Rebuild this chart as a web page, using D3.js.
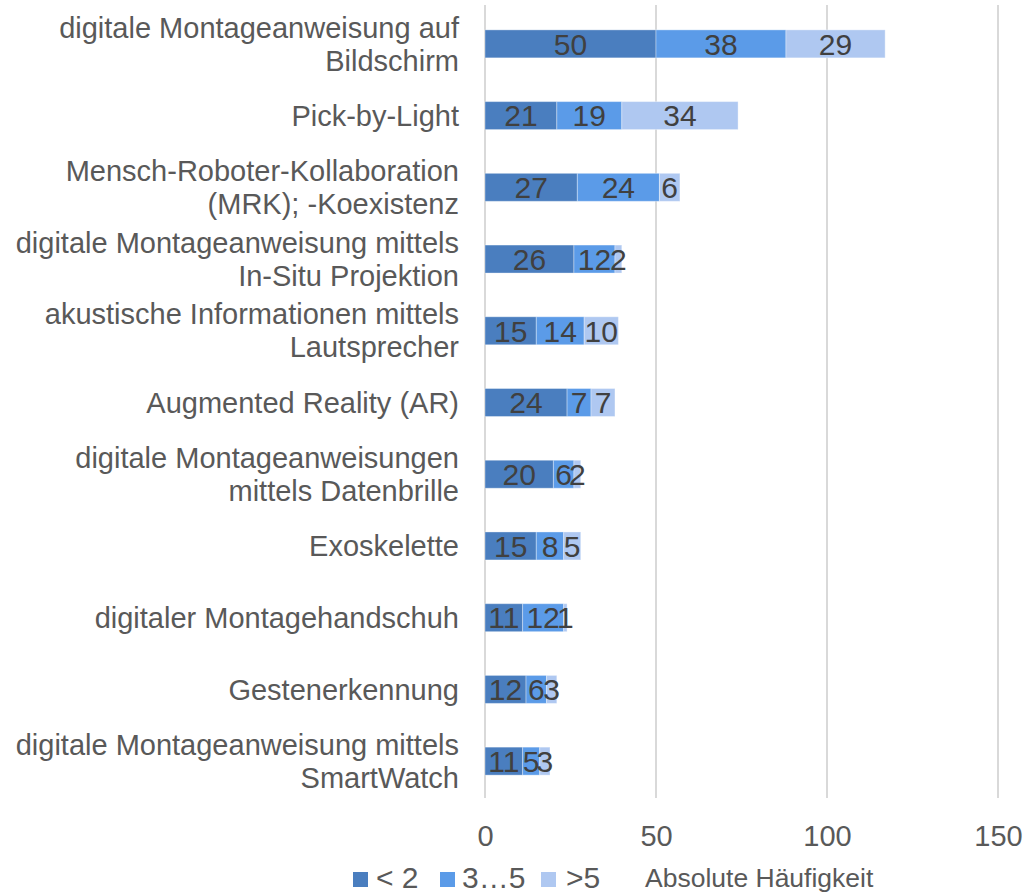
<!DOCTYPE html>
<html>
<head>
<meta charset="utf-8">
<script src="https://cdn.jsdelivr.net/npm/d3@7"></script>
<style>
  html, body { margin: 0; padding: 0; background: #fff; }
  svg { display: block; font-family: "Liberation Sans", Arial, sans-serif; }
</style>
</head>
<body>
<svg id="chart" width="1026" height="892"></svg>
<script>
// Categories (top to bottom), each split into label lines
const categories = [
  ["digitale Montageanweisung auf", "Bildschirm"],
  ["Pick-by-Light"],
  ["Mensch-Roboter-Kollaboration", "(MRK); -Koexistenz"],
  ["digitale Montageanweisung mittels", "In-Situ Projektion"],
  ["akustische Informationen mittels", "Lautsprecher"],
  ["Augmented Reality (AR)"],
  ["digitale Montageanweisungen", "mittels Datenbrille"],
  ["Exoskelette"],
  ["digitaler Montagehandschuh"],
  ["Gestenerkennung"],
  ["digitale Montageanweisung mittels", "SmartWatch"]
];

// Series: absolute frequency per group
const seriesNames = ["< 2", "3…5", ">5"];
const lessThan2   = [50, 21, 27, 26, 15, 24, 20, 15, 11, 12, 11];
const from3to5    = [38, 19, 24, 12, 14,  7,  6,  8, 12,  6,  5];
const moreThan5   = [29, 34,  6,  2, 10,  7,  2,  5,  1,  3,  3];
const xTicks = [0, 50, 100, 150];
const legendTitle = "Absolute Häufigkeit";

const colors = ["#4a7ebf", "#5b9be8", "#afc8f1"];

const svg = d3.select("#chart");

const keys = categories.map((c, i) => i);
const x = d3.scaleLinear().domain([0, 150]).range([485, 998]);
const y = d3.scaleBand().domain(keys).range([8, 797])
  .paddingInner(0.61).paddingOuter(0.305);

// Vertical gridlines
svg.append("g").selectAll("line").data(xTicks).join("line")
  .attr("x1", d => x(d)).attr("x2", d => x(d))
  .attr("y1", 5).attr("y2", 798)
  .attr("stroke", "#d9d9d9").attr("stroke-width", 2);

// Stack data
const rows = keys.map(i => ({ i, s0: lessThan2[i], s1: from3to5[i], s2: moreThan5[i] }));
const stack = d3.stack().keys(["s0", "s1", "s2"]);
const layers = stack(rows);

const barG = svg.append("g");
layers.forEach((layer, li) => {
  barG.append("g").selectAll("rect").data(layer).join("rect")
    .attr("x", d => x(d[0]))
    .attr("y", d => y(d.data.i))
    .attr("width", d => x(d[1]) - x(d[0]))
    .attr("height", y.bandwidth())
    .attr("fill", colors[li])
    .attr("stroke", "rgba(255,255,255,0.35)")
    .attr("stroke-width", 1);
});

// Data labels centered in segments
layers.forEach((layer) => {
  barG.append("g").selectAll("text").data(layer).join("text")
    .attr("x", d => x((d[0] + d[1]) / 2))
    .attr("y", d => y(d.data.i) + y.bandwidth() / 2)
    .attr("dy", "0.36em")
    .attr("text-anchor", "middle")
    .attr("font-size", 30)
    .attr("fill", "#404040")
    .text(d => d[1] - d[0]);
});

// Category labels
const lineH = 33;
const catG = svg.append("g");
categories.forEach((lines, i) => {
  const cy = y(i) + y.bandwidth() / 2;
  const t = catG.append("text")
    .attr("text-anchor", "end")
    .attr("font-size", 29)
    .attr("fill", "#595959");
  lines.forEach((ln, j) => {
    t.append("tspan")
      .attr("x", 459)
      .attr("y", cy + (j - (lines.length - 1) / 2) * lineH)
      .attr("dy", "0.35em")
      .text(ln);
  });
});

// X axis tick labels
const axis = d3.axisBottom(x).tickValues(xTicks).tickSize(0).tickPadding(0);
const axG = svg.append("g").attr("transform", "translate(0,825)").call(axis);
axG.select(".domain").remove();
axG.selectAll("text")
  .attr("font-size", 29)
  .attr("fill", "#595959")
  .attr("font-family", "Liberation Sans, Arial, sans-serif")
  .attr("dy", "0.71em");

// Legend
const legend = svg.append("g");
const legendItems = [
  { sx: 353, tx: 376 },
  { sx: 440, tx: 462 },
  { sx: 541, tx: 566 }
];
seriesNames.forEach((name, k) => {
  legend.append("rect")
    .attr("x", legendItems[k].sx).attr("y", 872)
    .attr("width", 15).attr("height", 15)
    .attr("fill", colors[k]);
  legend.append("text")
    .attr("x", legendItems[k].tx).attr("y", 888)
    .attr("font-size", 30).attr("fill", "#595959")
    .text(name);
});
legend.append("text")
  .attr("x", 645).attr("y", 887)
  .attr("font-size", 26.5).attr("fill", "#595959")
  .text(legendTitle);
</script>
</body>
</html>
